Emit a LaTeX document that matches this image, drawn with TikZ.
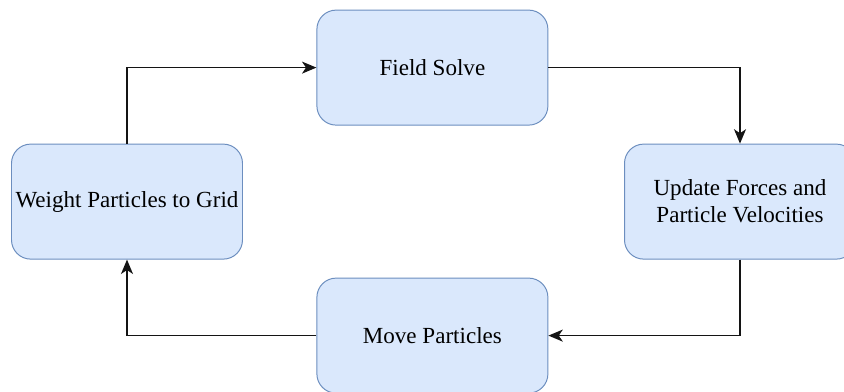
\documentclass[tikz,border=0pt]{standalone}
\usepackage{fontspec}
\setmainfont{Liberation Serif}
\usetikzlibrary{arrows.meta,positioning}
\definecolor{StepFill}{RGB}{218,232,252}
\definecolor{StepLine}{RGB}{108,142,191}
\definecolor{FlowBlack}{RGB}{20,20,20}

\begin{document}
\begin{tikzpicture}[
  stepbox/.style={rectangle,rounded corners=.48cm,draw=StepLine,line width=.7pt,fill=StepFill,
    minimum width=5.775cm,minimum height=2.875cm,inner sep=1pt,align=center,
    font=\fontsize{16.4}{19.2}\selectfont},
  flow/.style={FlowBlack,line width=1.1pt,-{Stealth[length=.36cm,width=.3cm,inset=.1cm]}}]
\useasboundingbox (0,0) rectangle (21.1,-9.775);
\node[stepbox] (field) at (10.81,-1.69){Field Solve};
\node[stepbox] (update) at (18.5,-5.04){Update Forces and\\Particle Velocities};
\node[stepbox] (move) at (10.81,-8.39){Move Particles};
\node[stepbox] (weight) at (3.175,-5.04){Weight Particles to Grid};
\draw[flow] (weight.north) |- (field.west);
\draw[flow] (field.east) -| (update.north);
\draw[flow] (update.south) |- (move.east);
\draw[flow] (move.west) -| (weight.south);
\end{tikzpicture}
\end{document}
